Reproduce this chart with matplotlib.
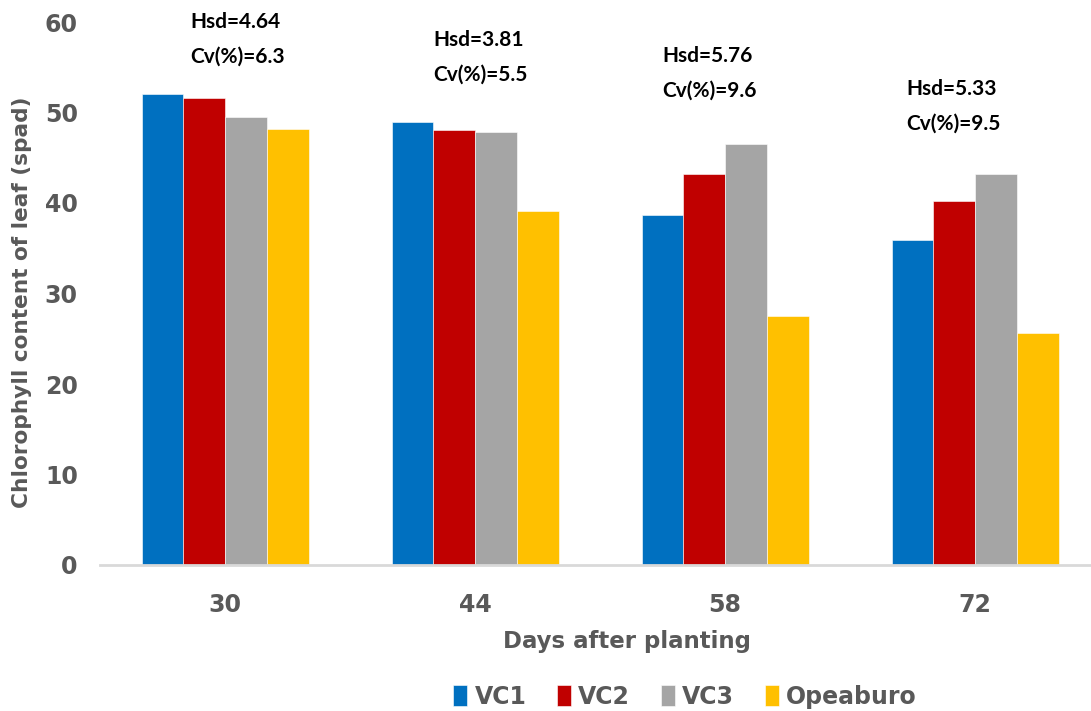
import matplotlib.pyplot as plt
import numpy as np

# Chlorophyll (SPAD) readings per variety at each sampling date
days = ["30", "44", "58", "72"]
varieties = ["VC1", "VC2", "VC3", "Opeaburo"]
vc1 = [52.0, 48.9, 38.7, 35.9]
vc2 = [51.6, 48.1, 43.2, 40.2]
vc3 = [49.5, 47.9, 46.5, 43.2]
opeaburo = [48.2, 39.1, 27.5, 25.6]
hsd = ["4.64", "3.81", "5.76", "5.33"]
cv = ["6.3", "5.5", "9.6", "9.5"]

colors = ["#0070C0", "#C00000", "#A5A5A5", "#FFC000"]
grey_text = "#595959"
label_font = "DejaVu Sans"

# where the Hsd / Cv notes sit: x offset from group centre, y of the Hsd line
note_dx = [-0.14, -0.165, -0.25, -0.275]
note_y = [60.0, 58.0, 56.2, 52.6]

fig = plt.figure(figsize=(10.91, 7.11), dpi=100)
ax = fig.add_axes([100 / 1091, 1 - 565 / 711, 991 / 1091, 543 / 711])

x = np.arange(len(days))
width = 0.167
series = [vc1, vc2, vc3, opeaburo]
for i, (vals, name) in enumerate(zip(series, varieties)):
    ax.bar(x + (i - 1.5) * width, vals, width, color=colors[i], label=name,
           edgecolor="white", linewidth=0.4)

for i in range(len(days)):
    ax.text(x[i] + note_dx[i], note_y[i], f"Hsd={hsd[i]}", fontsize=15,
            fontweight="bold", family="Lato", va="center", ha="left")
    ax.text(x[i] + note_dx[i], note_y[i] - 3.8, f"Cv(%)={cv[i]}", fontsize=15,
            fontweight="bold", family="Lato", va="center", ha="left")

ax.set_xlim(-0.5, 3.464)
ax.set_ylim(0, 60)
ax.set_yticks(range(0, 61, 10))
ax.set_xticks(x)
ax.set_xticklabels(days)

for s in ["top", "right", "left"]:
    ax.spines[s].set_visible(False)
ax.spines["bottom"].set_color("#D9D9D9")
ax.spines["bottom"].set_linewidth(2)
ax.tick_params(axis="both", length=0, colors=grey_text, labelsize=17)
ax.tick_params(axis="y", pad=16)
ax.tick_params(axis="x", pad=20)
for lbl in ax.get_xticklabels() + ax.get_yticklabels():
    lbl.set_fontweight("bold")
    lbl.set_family(label_font)

ax.set_xlabel("Days after planting", fontsize=16.5, fontweight="bold",
              color=grey_text, family=label_font)
ax.xaxis.set_label_coords(0.532, -0.12)
fig.text(22 / 1091, 1 - 302 / 711, "Chlorophyll content of leaf (spad)",
         rotation=90, fontsize=15.6, fontweight="bold", color=grey_text,
         family=label_font, ha="center", va="center")

leg = fig.legend(loc="center", bbox_to_anchor=(685 / 1091, 1 - 697 / 711),
                 ncol=4, frameon=False, handlelength=0.6, handleheight=1.0,
                 handletextpad=0.3, columnspacing=1.3,
                 prop={"family": label_font, "weight": "bold", "size": 17})
for t in leg.get_texts():
    t.set_color(grey_text)

fig.savefig("out.png", dpi=100)
